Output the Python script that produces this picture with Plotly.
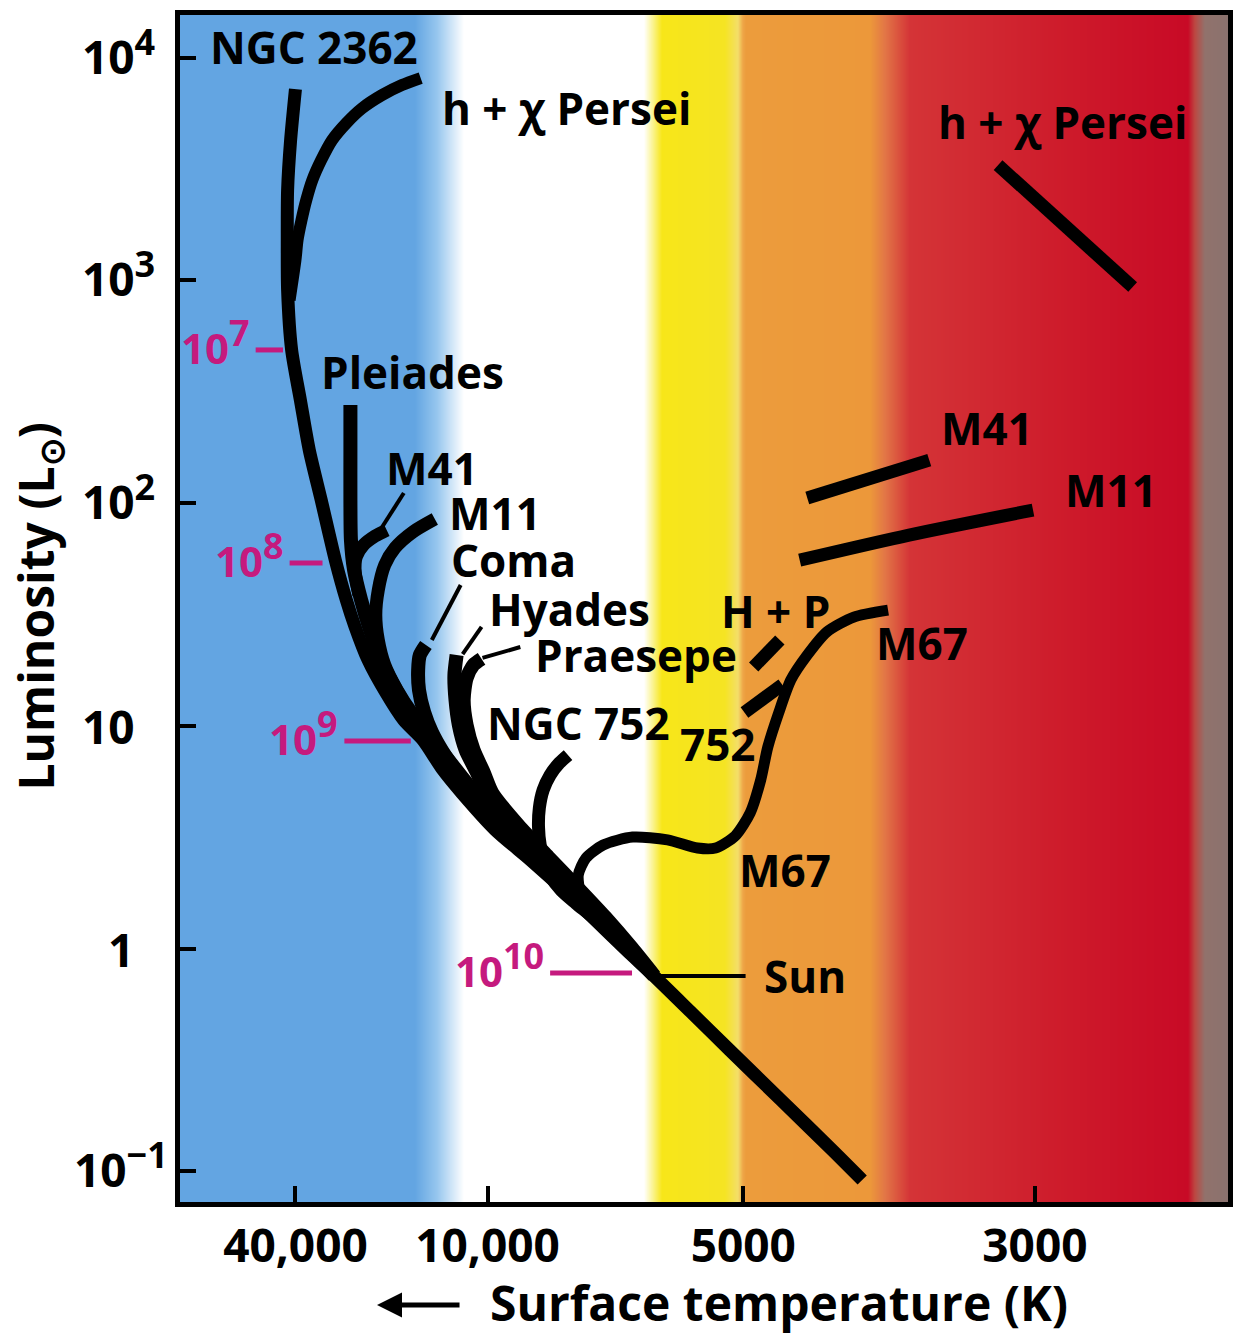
import numpy as np
import plotly.graph_objects as go

# ---------------------------------------------------------------------------
# Temperature axis: a piecewise-logarithmic scale through the labelled
# temperatures (hot stars on the left, cool stars on the right).
# ---------------------------------------------------------------------------
TEMP_KNOTS = [91000, 40000, 10000, 5000, 3000, 2210]
SCALE_KNOTS = [0, 116, 309, 566, 859, 1053]


def temp_axis(temps):
    t = -np.log10(np.asarray(temps, dtype=float))
    return np.interp(t, -np.log10(TEMP_KNOTS), SCALE_KNOTS)


def sup(base, exponent, size):
    return f"{base}<sup><span style='font-size:{size}px'>{exponent}</span></sup>"


TEMP_TICKS = [40000, 10000, 5000, 3000]
TEMP_TICK_TEXT = ["40,000", "10,000", "5000", "3000"]
LUM_TICKS = [1e4, 1e3, 1e2, 10, 1, 0.1]
LUM_TICK_TEXT = [sup("10", "4", 36), sup("10", "3", 36), sup("10", "2", 36), "10", "1",
                 sup("10", "−1", 36)]

# ---------------------------------------------------------------------------
# Cluster isochrones: surface temperature (K) and luminosity (L_sun)
# ---------------------------------------------------------------------------
NGC2362_T = [40000, 41400, 42300, 42400, 42300, 41100, 38600, 36200, 33200, 30000, 27700,
             26000, 23700, 20800, 18300, 15950, 13800, 12050, 9790, 8900, 8060, 7530, 6870,
             6370, 5750, 5190, 4680, 4280, 4060]
NGC2362_L = [7220, 4260, 2540, 1517, 905, 487, 290, 173, 103, 55.5, 36.7,
             27.8, 19.8, 14.05, 10.6, 8.65, 6.34, 5.00, 3.41, 2.50, 1.778, 1.388, 0.987,
             0.754, 0.515, 0.351, 0.209, 0.125, 0.0916]

HCHI_T = [16200, 18550, 21400, 24700, 27700, 30700, 33200, 35400, 37000, 38300, 39400, 40000, 41700]
HCHI_L = [8090, 7530, 6790, 5930, 5080, 4260, 3470, 2820, 2290, 1860, 1517, 1233, 816]

PLEIADES_T = [26900, 26900, 26900, 26800, 26200, 24900, 23500, 21600, 19100, 16900, 14850,
              13050, 11460, 9660, 8810, 8020, 7490]
PLEIADES_L = [276, 173, 103, 68.3, 50.1, 36.7, 27.8, 19.8, 14.05, 10.6, 8.65,
              6.34, 5.00, 3.41, 2.50, 1.778, 1.388]

M41_T = [20700, 22500, 24500, 25800, 26000, 25300]
M41_L = [75.7, 71.2, 64.8, 57.3, 49.1, 38.7]

M11_T = [14630, 17140, 19500, 21000, 22000, 22400, 22000, 21000, 19200, 17300, 15300,
         13420, 11630, 9580, 8740, 7970, 7450]
M11_L = [84.8, 74.2, 62.9, 52.7, 40.7, 31.5, 24.3, 18.8, 14.5, 11.5, 9.29,
         7.25, 5.60, 3.48, 2.50, 1.778, 1.388]

COMA_T = [15600, 16300, 16500, 16400, 15800, 14950, 13800, 12500, 11140, 9580, 8710, 7930, 7410]
COMA_L = [23.1, 20.8, 17.8, 14.5, 11.5, 9.39, 7.64, 6.21, 5.05, 3.55, 2.55, 1.778, 1.388]

HYADES_T = [12500, 12700, 12600, 12300, 11710, 10820, 10070, 9330, 8600, 7870, 7330, 6800, 6370]
HYADES_L = [20.8, 16.9, 13.07, 10.09, 7.80, 6.21, 5.00, 3.59, 2.58, 1.83, 1.388, 1.007, 0.754]

PRAESEPE_T = [10440, 11060, 11630, 11880, 11630, 11060, 10290, 9870, 9200, 8480, 7780, 7270, 6760, 6360]
PRAESEPE_L = [20.0, 18.8, 16.4, 13.07, 10.09, 7.80, 6.21, 5.00, 3.59, 2.58, 1.83, 1.388, 1.007, 0.754]

NGC752_T = [8040, 8230, 8440, 8600, 8690, 8710, 8670, 8570, 8420, 8190, 7870, 7450, 6840, 6370]
NGC752_L = [7.40, 6.82, 6.02, 5.16, 4.28, 3.52, 2.92, 2.45, 2.10, 1.83, 1.60, 1.345, 0.987, 0.754]

M67_T = [3880, 4120, 4320, 4470, 4600, 4700, 4790, 4850, 4940, 5110, 5390, 5660, 6140, 6750,
         7310, 7660, 7820, 7760, 7450, 7020, 6620, 6340]
M67_L = [33.1, 30.8, 26.4, 20.8, 16.1, 11.43, 8.04, 5.72, 4.07, 3.21, 2.83, 2.83, 3.08, 3.17,
         2.92, 2.55, 2.14, 1.74, 1.42, 1.117, 0.890, 0.739]

# Evolved (giant / supergiant) stars
HCHI_GIANT_T, HCHI_GIANT_L = [3200, 2570], [3290, 933]
M41_GIANT_T, M41_GIANT_L = [4470, 3610], [105.4, 156]
M11_GIANT_T, M11_GIANT_L = [4530, 3740, 3010], [55.5, 71.9, 93.1]
HP_GIANT_T, HP_GIANT_L = [4910, 4690], [18.4, 24.3]
NGC752_GIANT_T, NGC752_GIANT_L = [4990, 4670], [11.5, 15.3]

# Leader lines from labels to turnoff points
M41_LEADER_T, M41_LEADER_L = [21400, 18300], [78.1, 111]
COMA_LEADER_T, COMA_LEADER_L = [14950, 12140], [24.3, 42.9]
HYADES_LEADER_T, HYADES_LEADER_L = [11970, 10440], [21.0, 27.8]
PRAESEPE_LEADER_T, PRAESEPE_LEADER_L = [10370, 9150], [20.2, 22.6]

# The Sun
SUN_T, SUN_L = [6250, 4980], 0.754

# Main-sequence turnoff ages (years)
AGE_EXPONENTS = ["7", "8", "9", "10"]
AGE_L = [487, 53.9, 8.55, 0.778]
AGE_T_START = [53100, 41700, 28100, 8440]
AGE_T_END = [43700, 32900, 17400, 6760]

# Colour bands behind the diagram (scale position, colour)
BAND_STOPS = [
    (0, "rgb(99,165,226)"), (236, "rgb(99,165,226)"), (258, "rgb(150,198,238)"),
    (285, "rgb(255,255,255)"), (466, "rgb(255,255,255)"), (476, "rgb(250,242,130)"),
    (484, "rgb(247,230,25)"), (548, "rgb(245,228,35)"), (561, "rgb(244,222,105)"),
    (566, "rgb(238,165,72)"), (569, "rgb(236,156,60)"), (693, "rgb(236,152,58)"),
    (708, "rgb(226,118,70)"), (733, "rgb(212,52,55)"), (900, "rgb(205,25,42)"),
    (1013, "rgb(200,10,38)"), (1020, "rgb(188,72,66)"), (1030, "rgb(145,114,108)"),
    (1053, "rgb(138,114,110)"),
]

FONT = "Open Sans"
MAGENTA = "#C51A7E"
X_MAX = SCALE_KNOTS[-1]
LOG_RANGE = [-1.137, 4.191]

fig = go.Figure()

# Background colour bands
edges = np.arange(0, X_MAX + 1)
centers = (edges[:-1] + edges[1:]) / 2
fig.add_trace(go.Heatmap(
    x=edges, y=[1e-2, 1e5], z=[centers],
    zmin=0, zmax=X_MAX,
    colorscale=[[u / X_MAX, c] for u, c in BAND_STOPS],
    showscale=False, hoverinfo="skip",
))


def track(temps, lums, width=13, color="black", smooth=True):
    line = dict(color=color, width=width)
    if smooth:
        line.update(shape="spline", smoothing=0.7)
    fig.add_trace(go.Scatter(
        x=temp_axis(temps), y=lums, mode="lines", line=line,
        hoverinfo="skip", showlegend=False,
    ))


# Isochrones
track(NGC2362_T, NGC2362_L)
track(HCHI_T, HCHI_L, width=12)
track(PLEIADES_T, PLEIADES_L, width=14)
track(M41_T, M41_L)
track(M11_T, M11_L)
track(COMA_T, COMA_L, width=14)
track(HYADES_T, HYADES_L, width=14)
track(PRAESEPE_T, PRAESEPE_L, width=14)
track(NGC752_T, NGC752_L)
track(M67_T, M67_L, width=11)

# Giants
track(HCHI_GIANT_T, HCHI_GIANT_L, smooth=False)
track(M41_GIANT_T, M41_GIANT_L, smooth=False)
track(M11_GIANT_T, M11_GIANT_L)
track(HP_GIANT_T, HP_GIANT_L, smooth=False)
track(NGC752_GIANT_T, NGC752_GIANT_L, smooth=False)

# Leader lines and the Sun
for lt, ll in [(M41_LEADER_T, M41_LEADER_L), (COMA_LEADER_T, COMA_LEADER_L),
               (HYADES_LEADER_T, HYADES_LEADER_L), (PRAESEPE_LEADER_T, PRAESEPE_LEADER_L)]:
    track(lt, ll, width=4, smooth=False)
track(SUN_T, [SUN_L, SUN_L], width=4, smooth=False)

# Turnoff ages
for t0, t1, lum in zip(AGE_T_START, AGE_T_END, AGE_L):
    track([t0, t1], [lum, lum], width=5, color=MAGENTA, smooth=False)

annotations = []


def label(text, x, y, size=44, color="black", xanchor="left", yanchor="middle", **kw):
    opts = dict(text=text, x=x, y=y, xref="paper", yref="paper", showarrow=False,
                xanchor=xanchor, yanchor=yanchor,
                font=dict(family=FONT, size=size, color=color, weight=700))
    opts.update(kw)
    annotations.append(opts)


# Cluster names
CLUSTER_LABELS = [
    ("NGC 2362", 0.0266, 0.9730), ("h + χ Persei", 0.2479, 0.9216),
    ("h + χ Persei", 0.7217, 0.9099), ("Pleiades", 0.1330, 0.6992),
    ("M41", 0.1947, 0.6184), ("M11", 0.2545, 0.5805), ("Coma", 0.2564, 0.5409),
    ("Hyades", 0.2925, 0.4996), ("Praesepe", 0.3371, 0.4608), ("NGC 752", 0.2915, 0.4035),
    ("H + P", 0.5147, 0.4979), ("M67", 0.6619, 0.4709), ("752", 0.4748, 0.3858),
    ("M67", 0.5318, 0.2797), ("Sun", 0.5556, 0.1904), ("M41", 0.7246, 0.6521),
    ("M11", 0.8424, 0.5998),
]
for text, x, y in CLUSTER_LABELS:
    label(text, x, y)

# Age labels next to their marks
for exponent, t0, lum in zip(AGE_EXPONENTS, AGE_T_START, AGE_L):
    annotations.append(dict(
        text=sup("10", exponent, 36), x=float(temp_axis([t0])[0]), y=np.log10(lum),
        xref="x", yref="y", showarrow=False, xanchor="right", yanchor="middle",
        xshift=-4, yshift=8,
        font=dict(family=FONT, size=42, color=MAGENTA, weight=700),
    ))

# Luminosity tick labels
for text, val in zip(LUM_TICK_TEXT, LUM_TICKS):
    if text == "1":
        x, xa = -0.0418, "right"
    elif "−" in text:
        x, xa = -0.1026, "left"
    else:
        x, xa = -0.0950, "left"
    annotations.append(dict(
        text=text, x=x, y=np.log10(val), xref="paper", yref="y", showarrow=False,
        xanchor=xa, yanchor="middle", yshift=6 if "<sup>" in text else 0,
        font=dict(family=FONT, size=46, color="black", weight=700),
    ))

# Axis titles
label("Luminosity (L<sub>⊙</sub>)", -0.1349, 0.5013, size=48, xanchor="center",
      textangle=-90)
label("Surface temperature (K)", 0.5717, -0.0850, size=48, xanchor="center")
annotations.append(dict(
    text="", x=0.188, y=-0.0868, xref="paper", yref="paper", showarrow=True,
    ax=84, ay=0, arrowhead=2, arrowsize=1.0, arrowwidth=5, arrowcolor="black",
))

axis_common = dict(showline=True, linewidth=5, linecolor="black", mirror=True,
                   showgrid=False, zeroline=False, ticks="inside", ticklen=16,
                   tickwidth=4, tickcolor="black")

fig.update_layout(
    width=1241, height=1337, autosize=False,
    margin=dict(l=180, r=8, t=15, b=135),
    paper_bgcolor="white", plot_bgcolor="white",
    showlegend=False,
    xaxis=dict(range=[0, X_MAX], tickvals=temp_axis(TEMP_TICKS), ticktext=TEMP_TICK_TEXT,
               tickfont=dict(family=FONT, size=46, color="black", weight=700),
               **axis_common),
    yaxis=dict(type="log", range=LOG_RANGE, tickvals=LUM_TICKS, showticklabels=False,
               **axis_common),
    annotations=annotations,
)

fig.write_html("out.html")
